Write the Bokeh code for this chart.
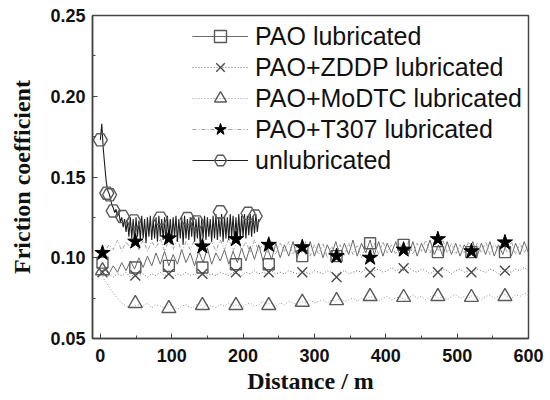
from bokeh.plotting import figure
from bokeh.models import Range1d, SingleIntervalTicker, NumeralTickFormatter, Legend, LegendItem
from bokeh.embed import file_html
from bokeh.resources import INLINE

# ---------------- data ----------------
STEP = 6          # m, sampling of the lubricated traces
UNLUB_STEP = 2    # m, sampling of the unlubricated trace

pao_lub = [
    0.091, 0.093, 0.090, 0.095, 0.091, 0.097, 0.092, 0.098, 0.093, 0.100,
    0.094, 0.101, 0.095, 0.103, 0.096, 0.104, 0.095, 0.102, 0.096, 0.105,
    0.097, 0.103, 0.095, 0.104, 0.097, 0.106, 0.096, 0.103, 0.098, 0.105,
    0.096, 0.104, 0.097, 0.106, 0.098, 0.107, 0.099, 0.108, 0.098, 0.106,
    0.099, 0.109, 0.100, 0.108, 0.101, 0.110, 0.100, 0.108, 0.102, 0.110,
    0.101, 0.109, 0.100, 0.108, 0.102, 0.110, 0.101, 0.109, 0.102, 0.111,
    0.101, 0.109, 0.103, 0.111, 0.102, 0.110, 0.101, 0.109, 0.103, 0.110,
    0.101, 0.108, 0.102, 0.110, 0.101, 0.109, 0.103, 0.111, 0.102, 0.108,
    0.101, 0.110, 0.102, 0.109, 0.101, 0.108, 0.103, 0.110, 0.101, 0.109,
    0.102, 0.110, 0.101, 0.108, 0.102, 0.110, 0.101, 0.109, 0.102, 0.110,
    0.103,
]
zddp_lub = [
    0.091, 0.089, 0.090, 0.088, 0.090, 0.089, 0.091, 0.088, 0.090, 0.089,
    0.090, 0.088, 0.090, 0.089, 0.091, 0.089, 0.090, 0.088, 0.090, 0.089,
    0.091, 0.089, 0.090, 0.088, 0.091, 0.089, 0.090, 0.089, 0.091, 0.090,
    0.089, 0.091, 0.090, 0.089, 0.091, 0.090, 0.092, 0.090, 0.091, 0.090,
    0.092, 0.090, 0.091, 0.090, 0.092, 0.091, 0.090, 0.092, 0.091, 0.090,
    0.092, 0.091, 0.090, 0.092, 0.091, 0.089, 0.091, 0.092, 0.090, 0.091,
    0.092, 0.091, 0.093, 0.091, 0.092, 0.093, 0.091, 0.092, 0.094, 0.092,
    0.093, 0.092, 0.094, 0.092, 0.091, 0.093, 0.092, 0.090, 0.092, 0.091,
    0.093, 0.092, 0.090, 0.092, 0.093, 0.091, 0.092, 0.091, 0.093, 0.092,
    0.091, 0.093, 0.092, 0.090, 0.093, 0.092, 0.091, 0.093, 0.092, 0.094,
    0.092,
]
modtc_lub = [
    0.092, 0.086, 0.082, 0.078, 0.075, 0.072, 0.070, 0.069, 0.070, 0.071,
    0.070, 0.072, 0.069, 0.071, 0.070, 0.069, 0.071, 0.070, 0.068, 0.070,
    0.071, 0.069, 0.070, 0.072, 0.069, 0.071, 0.070, 0.069, 0.071, 0.070,
    0.072, 0.070, 0.071, 0.069, 0.071, 0.072, 0.070, 0.071, 0.073, 0.071,
    0.072, 0.070, 0.072, 0.071, 0.073, 0.072, 0.071, 0.073, 0.072, 0.074,
    0.072, 0.073, 0.074, 0.072, 0.074, 0.073, 0.075, 0.073, 0.074, 0.075,
    0.073, 0.075, 0.074, 0.076, 0.075, 0.073, 0.075, 0.076, 0.074, 0.075,
    0.076, 0.074, 0.075, 0.077, 0.075, 0.076, 0.074, 0.076, 0.077, 0.075,
    0.076, 0.074, 0.076, 0.077, 0.075, 0.076, 0.075, 0.077, 0.076, 0.074,
    0.076, 0.077, 0.075, 0.076, 0.078, 0.076, 0.075, 0.077, 0.076, 0.078,
    0.077,
]
t307_lub = [
    0.102, 0.104, 0.108, 0.105, 0.111, 0.104, 0.110, 0.106, 0.112, 0.105,
    0.111, 0.104, 0.110, 0.106, 0.112, 0.104, 0.111, 0.105, 0.112, 0.103,
    0.110, 0.105, 0.111, 0.104, 0.112, 0.106, 0.110, 0.104, 0.111, 0.105,
    0.112, 0.104, 0.111, 0.105, 0.110, 0.103, 0.111, 0.104, 0.109, 0.103,
    0.110, 0.102, 0.109, 0.104, 0.110, 0.102, 0.108, 0.103, 0.110, 0.101,
    0.108, 0.102, 0.109, 0.100, 0.107, 0.102, 0.108, 0.101, 0.109, 0.102,
    0.108, 0.100, 0.107, 0.101, 0.109, 0.102, 0.110, 0.103, 0.108, 0.102,
    0.109, 0.103, 0.110, 0.102, 0.109, 0.104, 0.111, 0.103, 0.110, 0.104,
    0.111, 0.103, 0.109, 0.102, 0.108, 0.103, 0.110, 0.102, 0.109, 0.103,
    0.110, 0.102, 0.109, 0.104, 0.111, 0.103, 0.110, 0.102, 0.109, 0.103,
    0.108,
]
unlubricated = [
    0.173, 0.183, 0.168, 0.158, 0.148, 0.142, 0.140, 0.137, 0.133, 0.131,
    0.128, 0.130, 0.126, 0.128, 0.122, 0.125, 0.119, 0.124, 0.116, 0.123,
    0.113, 0.125, 0.112, 0.124, 0.110, 0.125, 0.113, 0.123, 0.111, 0.126,
    0.112, 0.124, 0.109, 0.125, 0.113, 0.126, 0.111, 0.124, 0.112, 0.125,
    0.110, 0.126, 0.113, 0.124, 0.111, 0.125, 0.109, 0.126, 0.112, 0.124,
    0.111, 0.125, 0.113, 0.126, 0.110, 0.124, 0.112, 0.125, 0.108, 0.126,
    0.112, 0.124, 0.111, 0.125, 0.113, 0.126, 0.110, 0.124, 0.112, 0.125,
    0.107, 0.124, 0.112, 0.126, 0.111, 0.125, 0.113, 0.124, 0.110, 0.126,
    0.112, 0.127, 0.111, 0.125, 0.113, 0.127, 0.110, 0.126, 0.112, 0.125,
    0.111, 0.127, 0.113, 0.126, 0.110, 0.125, 0.112, 0.127, 0.111, 0.126,
    0.113, 0.127, 0.112, 0.126, 0.114, 0.127, 0.113, 0.126, 0.115, 0.127,
    0.116, 0.124,
]

# symbol positions / values
marker_dist = [3, 49, 96, 143, 190, 236, 283, 331, 378, 425, 473, 520, 567]
pao_marks = [0.097, 0.094, 0.095, 0.094, 0.096, 0.096, 0.101, 0.101, 0.109, 0.108, 0.1035, 0.1035, 0.1035]
zddp_marks = [0.091, 0.089, 0.090, 0.090, 0.091, 0.091, 0.091, 0.088, 0.091, 0.0935, 0.091, 0.091, 0.092]
modtc_marks = [0.092, 0.0717, 0.0686, 0.0705, 0.0705, 0.0705, 0.0725, 0.0735, 0.076, 0.0755, 0.076, 0.0755, 0.076]
t307_marks = [0.103, 0.110, 0.112, 0.107, 0.1115, 0.108, 0.1065, 0.101, 0.100, 0.105, 0.1115, 0.104, 0.1095]
unlub_mark_dist = [0, 9, 13, 18, 31, 47, 84, 122, 135, 168, 207, 217]
unlub_marks = [0.173, 0.140, 0.139, 0.129, 0.1255, 0.1228, 0.1245, 0.1243, 0.1222, 0.1284, 0.1275, 0.1258]

labels = ["PAO lubricated", "PAO+ZDDP lubricated", "PAO+MoDTC lubricated",
          "PAO+T307 lubricated", "unlubricated"]
x_ticks = [0, 100, 200, 300, 400, 500, 600]
y_ticks = [0.05, 0.10, 0.15, 0.20, 0.25]


def dist(vals, step):
    return [i * step for i in range(len(vals))]


# ---------------- figure ----------------
p = figure(width=550, height=400, output_backend="svg", toolbar_location=None,
           x_range=Range1d(-11, 600), y_range=Range1d(0.05, 0.25),
           min_border_left=92, min_border_right=22, min_border_top=15, min_border_bottom=62)
p.xgrid.visible = False
p.ygrid.visible = False
p.outline_line_color = "#444444"
p.outline_line_width = 1.5
p.background_fill_color = "white"
p.border_fill_color = "white"

# traces
l_pao = p.line(dist(pao_lub, STEP), pao_lub, line_color="#6a6a6a", line_width=1)
l_zddp = p.line(dist(zddp_lub, STEP), zddp_lub, line_color="#6a6a6a", line_width=1, line_dash="1 2")
l_modtc = p.line(dist(modtc_lub, STEP), modtc_lub, line_color="#959595", line_width=1, line_dash="1 2")
l_t307 = p.line(dist(t307_lub, STEP), t307_lub, line_color="#a0a0a0", line_width=1, line_dash="4 2 1 2")
l_unlub = p.line(dist(unlubricated, UNLUB_STEP), unlubricated, line_color="#1e1e1e", line_width=1.1)

# symbols
m_pao = p.scatter(marker_dist, pao_marks, marker="square", size=11, fill_color="white",
                  fill_alpha=0.0, line_color="#5a5a5a", line_width=1.4)
m_zddp = p.scatter(marker_dist, zddp_marks, marker="x", size=14, line_color="#4a4a4a", line_width=1.4)
m_modtc = p.scatter(marker_dist, modtc_marks, marker="triangle", size=14, fill_alpha=0.0,
                    line_color="#5a5a5a", line_width=1.4)
m_t307 = p.scatter(marker_dist, t307_marks, marker="star", size=16, fill_color="black",
                   line_color="black")
m_unlub = p.scatter(unlub_mark_dist, unlub_marks, marker="hex", size=14, fill_alpha=0.0,
                    line_color="#5a5a5a", line_width=1.4)

# axes
for ax in (p.xaxis[0], p.yaxis[0]):
    ax.axis_line_color = "#444444"
    ax.axis_line_width = 1.5
    ax.major_tick_in = 5
    ax.major_tick_out = 0
    ax.minor_tick_in = 3
    ax.minor_tick_out = 0
    ax.major_tick_line_color = "#444444"
    ax.minor_tick_line_color = "#444444"
    ax.major_label_text_font = "Liberation Sans"
    ax.major_label_text_font_style = "bold"
    ax.major_label_text_font_size = "18px"
    ax.major_label_text_color = "#111111"
    ax.axis_label_text_font = "Liberation Serif"
    ax.axis_label_text_font_style = "bold"
    ax.axis_label_text_font_size = "24px"
    ax.axis_label_text_color = "#111111"

p.xaxis.ticker = SingleIntervalTicker(interval=100, num_minor_ticks=2)
p.yaxis.ticker = SingleIntervalTicker(interval=0.05, num_minor_ticks=2)
p.xaxis.major_label_overrides = {t: str(t) for t in x_ticks}
p.yaxis.formatter = NumeralTickFormatter(format="0.00")
p.xaxis.axis_label = "Distance / m"
p.yaxis.axis_label = "Friction coefficient"
p.xaxis.major_label_standoff = 10
p.xaxis.axis_label_standoff = 3
p.yaxis.major_label_standoff = 7
p.yaxis.axis_label_standoff = 12

legend = Legend(items=[
    LegendItem(label=labels[0], renderers=[l_pao, m_pao]),
    LegendItem(label=labels[1], renderers=[l_zddp, m_zddp]),
    LegendItem(label=labels[2], renderers=[l_modtc, m_modtc]),
    LegendItem(label=labels[3], renderers=[l_t307, m_t307]),
    LegendItem(label=labels[4], renderers=[l_unlub, m_unlub]),
], location=(100, 163))
legend.border_line_alpha = 0
legend.background_fill_alpha = 0
legend.padding = 0
legend.margin = 0
legend.spacing = 1
legend.glyph_width = 56
legend.glyph_height = 30
legend.label_height = 30
legend.label_standoff = 7
legend.label_text_font = "Liberation Sans"
legend.label_text_font_size = "25px"
legend.label_text_color = "#111111"
p.add_layout(legend)

open("out.html", "w").write(file_html(p, INLINE))
